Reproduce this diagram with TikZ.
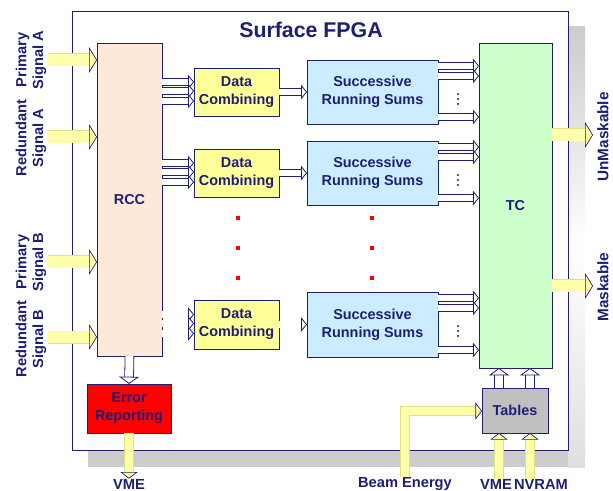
\documentclass[tikz,border=0pt]{standalone}
\usepackage{fontspec}
\setmainfont{Liberation Sans}
\usetikzlibrary{arrows.meta,calc}
\definecolor{fpganavy}{RGB}{30,30,115}
\definecolor{rccpeach}{RGB}{253,233,217}
\definecolor{dcyellow}{RGB}{255,255,153}
\definecolor{srsblue}{RGB}{204,236,255}
\definecolor{tcgreen}{RGB}{204,255,204}
\definecolor{tabgray}{RGB}{192,192,192}
\definecolor{pyellow}{RGB}{255,255,170}
\definecolor{yedge}{RGB}{225,225,130}
\definecolor{shadowgray}{RGB}{204,204,204}
\tikzset{
  blk/.style={draw=fpganavy, line width=0.6pt, inner sep=0pt, outer sep=0pt, text=fpganavy,
    align=center, font=\bfseries\fontsize{10.8}{13.5}\selectfont},
  lbl/.style={inner sep=0pt, text=fpganavy, align=center, font=\bfseries\fontsize{11}{12.5}\selectfont},
  harrow/.style={draw=fpganavy, line width=0.6pt, double=white, double distance=4.6pt,
    -{Triangle[width=11pt,length=4.5pt,fill=white,color=fpganavy,line width=0.6pt]}},
  hbig/.style={draw=fpganavy, line width=0.6pt, double=white, double distance=6pt,
    -{Triangle[width=15pt,length=5.5pt,fill=white,color=fpganavy,line width=0.6pt]}},
  yarrow/.style={draw=yedge, line width=0.5pt, double=pyellow, double distance=6pt,
    -{Triangle[width=13pt,length=5pt,fill=pyellow,color=fpganavy,line width=0.5pt]}},
  ybig/.style={draw=yedge, line width=0.5pt, double=pyellow, double distance=8.75pt,
    -{Triangle[width=19.5pt,length=6pt,fill=pyellow,color=fpganavy,line width=0.5pt]}},
  reddot/.style={fill=red, inner sep=0pt, minimum size=2.5pt}
}
\begin{document}
\begin{tikzpicture}[x=0.75pt,y=0.75pt,yscale=-1,xscale=1]
\useasboundingbox (0,0) rectangle (613,491);
% shadow and FPGA frame
\fill[shadowgray] (88,450) rectangle (585,467);
\shade[top color=shadowgray, bottom color=gray!25, middle color=white] (568,27) rectangle (585,467);
\draw[draw=fpganavy, fill=white, line width=0.6pt] (72,11) rectangle (568,450);
\node[lbl, font=\bfseries\fontsize{16}{18}\selectfont] (title) at (311,30) {Surface FPGA};
% blocks
\node[blk, fill=rccpeach, minimum width=48.75pt, minimum height=234.75pt] (rcc) at (129.5,199.5) {RCC};
\node[blk, fill=red, minimum width=63pt, minimum height=36.75pt] (err) at (129,408.5) {Error\\Reporting};
\node[blk, fill=dcyellow, minimum width=63.75pt, minimum height=36pt] (dc1) at (236.5,92) {Data\\Combining};
\node[blk, fill=dcyellow, minimum width=63.75pt, minimum height=36pt] (dc2) at (236.5,173) {Data\\Combining};
\node[blk, fill=dcyellow, minimum width=63.75pt, minimum height=36.75pt] (dc3) at (236.5,324.5) {Data\\Combining};
\node[blk, fill=srsblue, minimum width=98.25pt, minimum height=48pt] (srs1) at (372.5,92) {Successive\\Running Sums};
\node[blk, fill=srsblue, minimum width=98.25pt, minimum height=48pt] (srs2) at (372.5,173) {Successive\\Running Sums};
\node[blk, fill=srsblue, minimum width=98.25pt, minimum height=48.75pt] (srs3) at (372.5,324.5) {Successive\\Running Sums};
\node[blk, fill=tcgreen, minimum width=54.75pt, minimum height=243.75pt] (tc) at (515.5,205.5) {TC};
\node[blk, fill=tabgray, minimum width=49.5pt, minimum height=33.75pt] (tab) at (515,410.5) {Tables};
% red dots
\foreach \yy [count=\i] in {218,248,278}{
  \node[reddot] (dl\i) at (238,\yy) {};
  \node[reddot] (dr\i) at (372,\yy) {};
}
% labels
\node[lbl, rotate=90] (pa) at (31,60) {Primary\\Signal A};
\node[lbl, rotate=90] (ra) at (31,138) {Redundant\\Signal A};
\node[lbl, rotate=90] (pb) at (31,262) {Primary\\Signal B};
\node[lbl, rotate=90] (rb) at (31,339) {Redundant\\Signal B};
\node[lbl, rotate=90, font=\bfseries\fontsize{11.5}{13}\selectfont] (unm) at (603,137) {UnMaskable};
\node[lbl, rotate=90, font=\bfseries\fontsize{11.5}{13}\selectfont] (msk) at (603,287) {Maskable};
\node[lbl] (vme) at (129,484) {VME};
\node[lbl] (beam) at (405,484) {Beam Energy};
\node[lbl] (vme2) at (496,484) {VME};
\node[lbl] (nvram) at (541,484) {NVRAM};
% inputs
\foreach \yy [count=\i] in {60,137,262,337}{
  \coordinate (in\i) at (48,\yy);
  \draw[ybig] (in\i) -- (in\i -| rcc.west);
}
% RCC to data combining
\foreach \d in {dc1,dc2,dc3}{
  \foreach \o in {-10,-1,9}{
    \coordinate (q) at ($(\d.west)+(0,\o)$);
    \draw[harrow] (q -| rcc.east) -- (q);
  }
  \draw[harrow] (\d.east) -- (\d.east -| srs1.west);
}
% running sums to TC
\foreach \s in {srs1,srs2,srs3}{
  \foreach \o in {6,16}{
    \coordinate (p) at ($(\s.north east)+(0,\o)$);
    \draw[harrow] (p) -- (p -| tc.west);
  }
  \coordinate (p) at ($(\s.south east)+(0,-7)$);
  \draw[harrow] (p) -- (p -| tc.west);
  \foreach \o in {34,39,44}
    \fill[fpganavy] ($(\s.north east)+(20,\o)$) circle (1.2);
}
% outputs
\coordinate (ou1) at (593,135);
\coordinate (ou2) at (593,286);
\draw[ybig] (ou1 -| tc.east) -- (ou1);
\draw[ybig] (ou2 -| tc.east) -- (ou2);
% error reporting
\draw[hbig] (rcc.south) -- (err.north);
\draw[yarrow] (err.south) -- (vme.north);
% tables
\coordinate (t1) at (499,0);
\coordinate (t2) at (530,0);
\draw[hbig] (t1 |- tab.north) -- (t1 |- tc.south);
\draw[hbig] (t2 |- tab.north) -- (t2 |- tc.south);
\draw[yarrow] (t1 |- vme2.north) -- (t1 |- tab.south);
\draw[yarrow] (t2 |- nvram.north) -- (t2 |- tab.south);
\coordinate (bend) at (405,411);
\draw[yarrow] (beam.north) -- (bend) -- (bend -| tab.west);
\end{tikzpicture}
\end{document}
